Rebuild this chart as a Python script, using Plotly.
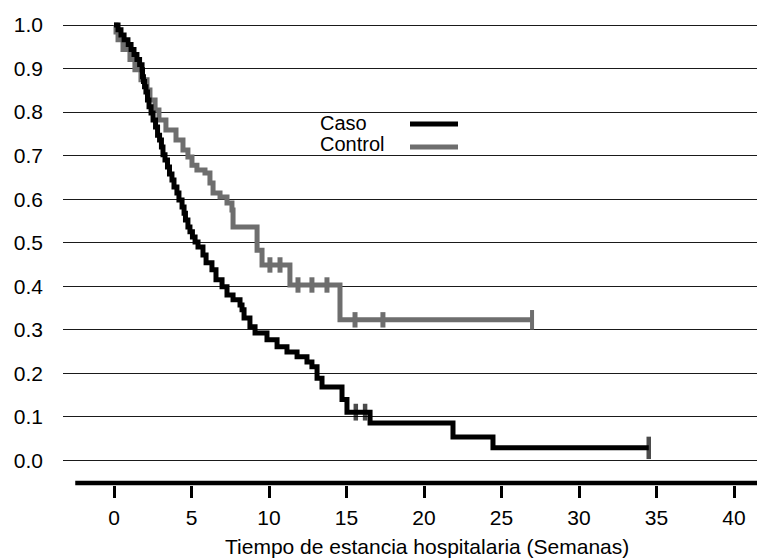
import plotly.graph_objects as go

# Kaplan-Meier step data
caso_t = [0, 0.26, 0.45, 0.65, 0.90, 1.10, 1.29, 1.48, 1.65, 1.81, 1.84, 1.90, 1.97, 2.06,
          2.16, 2.26, 2.39, 2.52, 2.68, 2.81, 2.94, 3.06, 3.16, 3.29, 3.45, 3.58, 3.74,
          3.87, 4.06, 4.19, 4.39, 4.52, 4.61, 4.77, 4.90, 5.06, 5.23, 5.42, 5.74, 5.94,
          6.32, 6.58, 6.97, 7.29, 7.68, 8.13, 8.26, 8.39, 8.77, 9.10, 9.87, 10.52, 11.16,
          11.81, 12.45, 12.77, 13.10, 13.42, 14.71, 15.03, 16.52, 21.87, 24.45, 34.5]
caso_s = [1.0, 0.989, 0.977, 0.966, 0.955, 0.944, 0.932, 0.921, 0.909, 0.897, 0.881, 0.870,
          0.858, 0.846, 0.828, 0.812, 0.798, 0.782, 0.766, 0.747, 0.736, 0.720, 0.702,
          0.690, 0.674, 0.658, 0.644, 0.628, 0.614, 0.598, 0.582, 0.568, 0.552, 0.536,
          0.525, 0.513, 0.502, 0.490, 0.472, 0.454, 0.438, 0.415, 0.399, 0.380, 0.369,
          0.357, 0.346, 0.327, 0.307, 0.293, 0.277, 0.261, 0.249, 0.238, 0.226, 0.215,
          0.189, 0.169, 0.140, 0.111, 0.086, 0.054, 0.029, 0.029]
caso_cens_t = [15.6, 16.2, 34.5]
caso_cens_s = [0.111, 0.111, 0.029]

control_t = [0, 0.13, 0.26, 0.58, 1.03, 1.35, 1.74, 2.13, 2.32, 2.65, 2.90, 3.35, 4.0, 4.45,
             4.77, 5.03, 5.35, 5.87, 6.19, 6.39, 6.84, 7.29, 7.61, 7.68, 9.23, 9.55, 11.35,
             14.58, 26.97]
control_s = [1.0, 0.984, 0.966, 0.944, 0.921, 0.897, 0.874, 0.851, 0.828, 0.805, 0.782,
             0.759, 0.736, 0.713, 0.697, 0.678, 0.667, 0.660, 0.637, 0.614, 0.605, 0.591,
             0.575, 0.536, 0.483, 0.449, 0.403, 0.323, 0.323]
control_cens_t = [10.06, 10.71, 11.87, 12.77, 13.74, 15.55, 17.35]
control_cens_s = [0.449, 0.449, 0.403, 0.403, 0.403, 0.323, 0.323]
control_end_t = [26.97]
control_end_s = [0.323]

x_ticks = [0, 5, 10, 15, 20, 25, 30, 35, 40]
y_ticks = [0.0, 0.1, 0.2, 0.3, 0.4, 0.5, 0.6, 0.7, 0.8, 0.9, 1.0]
y_labels = ["0.0", "0.1", "0.2", "0.3", "0.4", "0.5", "0.6", "0.7", "0.8", "0.9", "1.0"]
legend_names = ["Caso", "Control"]

BLACK = "#000000"
GRAY = "#6e6e6e"
FONT = "Liberation Sans, Arial, sans-serif"

fig = go.Figure()
fig.add_trace(go.Scatter(x=control_t, y=control_s, mode="lines", line_shape="hv",
                         line=dict(color=GRAY, width=5), name=legend_names[1],
                         showlegend=False))
fig.add_trace(go.Scatter(x=control_cens_t, y=control_cens_s, mode="markers",
                         marker=dict(symbol="line-ns", size=11,
                                     line=dict(color=GRAY, width=5)),
                         showlegend=False))
fig.add_trace(go.Scatter(x=control_end_t, y=control_end_s, mode="markers",
                         marker=dict(symbol="line-ns", size=14,
                                     line=dict(color=GRAY, width=4)),
                         showlegend=False))
fig.add_trace(go.Scatter(x=caso_t, y=caso_s, mode="lines", line_shape="hv",
                         line=dict(color=BLACK, width=5), name=legend_names[0],
                         showlegend=False))
fig.add_trace(go.Scatter(x=caso_cens_t, y=caso_cens_s, mode="markers",
                         marker=dict(symbol="line-ns", size=[12, 12, 16],
                                     line=dict(color=BLACK, width=4.5)),
                         showlegend=False))

# layout geometry: reference pixels; the page adds an 8px body margin
OFF = 8
W, H = 765 - OFF, 558 - OFF
L, T, B = 63 - OFF, 15 - OFF, 73
pw, ph = W - L, H - T - B
REF_LEFT, REF_BOTTOM = 63, 485


def px(xp):
    return (xp - REF_LEFT) / pw


def py(yp):
    return (REF_BOTTOM - yp) / ph


shapes = [
    # thick x axis line starting at -2.5
    dict(type="line", xref="x", yref="paper", x0=-2.5, x1=42.5, y0=py(483), y1=py(483),
         line=dict(color=BLACK, width=4.5)),
    # legend lines
    dict(type="line", xref="paper", yref="paper", x0=px(410), x1=px(458), y0=py(124),
         y1=py(124), line=dict(color=BLACK, width=5)),
    dict(type="line", xref="paper", yref="paper", x0=px(410), x1=px(458), y0=py(147),
         y1=py(147), line=dict(color=GRAY, width=5)),
]

annotations = [
    dict(text=legend_names[0], xref="paper", yref="paper", x=px(318), y=py(123),
         xanchor="left", yanchor="middle", showarrow=False,
         font=dict(size=20, color=BLACK, family=FONT)),
    dict(text=legend_names[1], xref="paper", yref="paper", x=px(318), y=py(144),
         xanchor="left", yanchor="middle", showarrow=False,
         font=dict(size=20, color=BLACK, family=FONT)),
    dict(text="Tiempo de estancia hospitalaria (Semanas)", xref="paper", yref="paper",
         x=px(427), y=py(546), xanchor="center", yanchor="middle", showarrow=False,
         font=dict(size=21, color=BLACK, family=FONT)),
]

fig.update_layout(
    width=W, height=H,
    margin=dict(l=L, r=0, t=T, b=B, pad=0),
    paper_bgcolor="white", plot_bgcolor="white",
    font=dict(family=FONT, size=21, color=BLACK),
    showlegend=False,
    shapes=shapes,
    annotations=annotations,
)
fig.update_xaxes(range=[(REF_LEFT - 114) / 15.5, (765 - 114) / 15.5], tickvals=x_ticks,
                 ticks="outside", ticklen=12, tickwidth=2.5, tickcolor=BLACK,
                 showgrid=False, zeroline=False, showline=False, ticklabelstandoff=2,
                 tickfont=dict(size=21, family=FONT, color=BLACK))
fig.update_yaxes(range=[-(REF_BOTTOM - 460.5) / 435.5, 1 + (25 - 15) / 435.5],
                 tickvals=y_ticks, ticktext=y_labels, ticks="", showgrid=True,
                 gridcolor="#1a1a1a", gridwidth=1.2, zeroline=True, zerolinecolor="#1a1a1a",
                 zerolinewidth=1.2, showline=False, ticklabelstandoff=19,
                 tickfont=dict(size=21, family=FONT, color=BLACK))

fig.write_html("out.html")
